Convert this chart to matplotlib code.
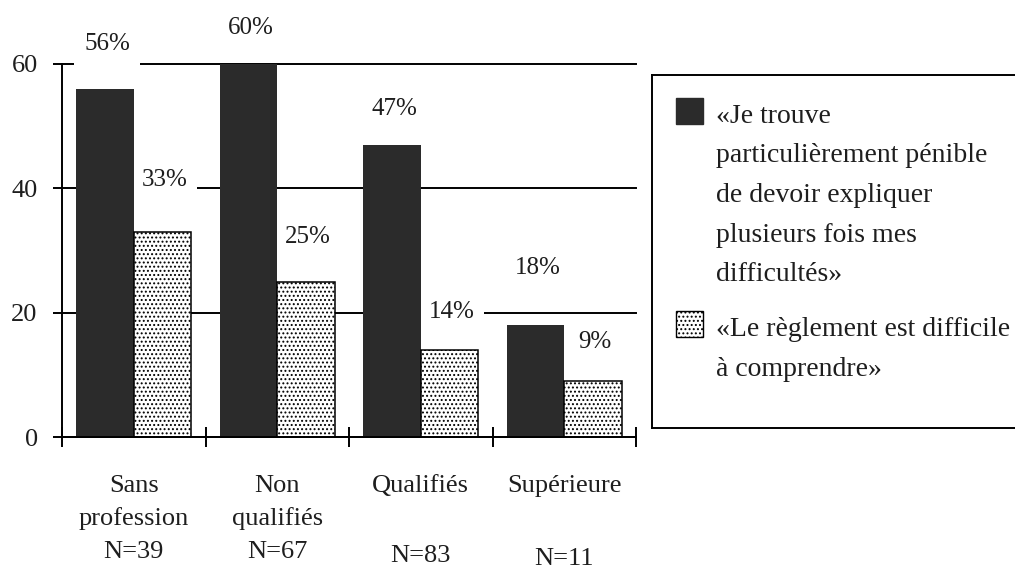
import numpy as np
import matplotlib
matplotlib.use('Agg')
import matplotlib.pyplot as plt
from matplotlib.patches import Rectangle

categories = ['Sans\nprofession', 'Non\nqualifiés', 'Qualifiés', 'Supérieure']
n_labels = ['N=39', 'N=67', 'N=83', 'N=11']
penible = [56, 60, 47, 18]
reglement = [33, 25, 14, 9]
series_labels = ['«Je trouve\nparticulièrement pénible\nde devoir expliquer\nplusieurs fois mes\ndifficultés»',
                 '«Le règlement est difficile\nà comprendre»']

# layout, in pixels
label_rise = [[47, 38, 38, 59], [54, 47, 40, 41]]   # label centre above bar top
n_drop = [121, 121, 125, 128]                        # N= baseline below axis

plt.rcParams['font.family'] = ['Liberation Serif', 'DejaVu Serif']
plt.rcParams['hatch.linewidth'] = 0.9
DARK = '#2b2b2b'
INK = '#1e1e1e'
PX = 72 / 100  # points per pixel

fig = plt.figure(figsize=(10.15, 5.72), dpi=100)
ax = fig.add_axes([62 / 1015, 1 - 437 / 572, (636 - 62) / 1015, (437 - 64) / 572])

x = np.arange(len(categories))
w = 0.4
b1 = ax.bar(x + 0.3, penible, w, color=DARK, zorder=2)
b2 = ax.bar(x + 0.7, reglement, w, color='white', edgecolor='black',
            hatch='....', lw=1.1, zorder=2)

for bars, vals, rises in [(b1, penible, label_rise[0]), (b2, reglement, label_rise[1])]:
    for rect, v, r in zip(bars, vals, rises):
        ax.annotate(f'{v}%', (rect.get_x() + rect.get_width() / 2, v),
                    xytext=(2 * PX, (r - 2) * PX), textcoords='offset points',
                    ha='center', va='center', fontsize=18, color=INK,
                    annotation_clip=False, zorder=1.5,
                    bbox=dict(boxstyle='square,pad=0.4', fc='white', ec='none'))

ax.set_xlim(0, 4)
ax.set_ylim(0, 60)
ax.set_xticks(range(5))
ax.set_xticklabels([])
ax.set_yticks([0, 20, 40, 60])
ax.tick_params(axis='x', direction='inout', length=14, width=1.4)
ax.tick_params(axis='y', direction='out', length=6.5, width=1.4,
               labelsize=19, pad=11, labelcolor=INK)
for s in ['top', 'right']:
    ax.spines[s].set_visible(False)
for s in ['left', 'bottom']:
    ax.spines[s].set_linewidth(1.4)
ax.grid(axis='y', color='black', lw=1.4)
ax.set_axisbelow(True)
for gl in ax.get_ygridlines():
    gl.set_clip_on(False)

for i, (name, n) in enumerate(zip(categories, n_labels)):
    for j, line in enumerate(name.split('\n')):
        ax.annotate(line, (i + 0.5, 0), xycoords=('data', 'axes fraction'),
                    xytext=(0, -(55 + 33 * j) * PX), textcoords='offset points',
                    ha='center', va='baseline', fontsize=19, color=INK,
                    annotation_clip=False)
    ax.annotate(n, (i + 0.5, 0), xycoords=('data', 'axes fraction'),
                xytext=(0, -n_drop[i] * PX), textcoords='offset points',
                ha='center', va='baseline', fontsize=19, color=INK,
                annotation_clip=False)

# legend box, drawn in pixel units
lax = fig.add_axes([652 / 1015, 1 - 428 / 572, (1030 - 652) / 1015, (428 - 75) / 572])
lax.set_xlim(652, 1030)
lax.set_ylim(428, 75)
lax.set_xticks([])
lax.set_yticks([])
for s in lax.spines.values():
    s.set_linewidth(1.4)

swatches = [dict(fc=DARK, ec=DARK), dict(fc='white', ec='black', hatch='....', lw=1.0)]
starts = [123, 336]
for lab, sw, y0 in zip(series_labels, swatches, starts):
    lax.add_patch(Rectangle((676, y0 - 25), 27, 26, **sw))
    for j, line in enumerate(lab.split('\n')):
        lax.text(716, y0 + 39.5 * j, line, fontsize=20, color=INK,
                 ha='left', va='baseline')

fig.savefig('out.png', dpi=100)
